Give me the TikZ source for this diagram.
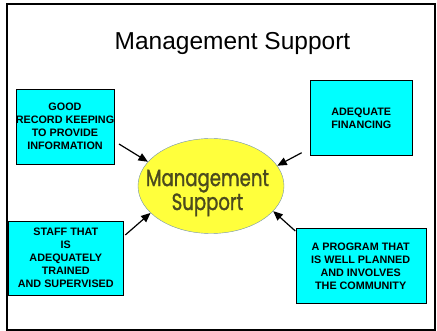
\documentclass[tikz,border=0pt]{standalone}
\usepackage{fontspec}
\setmainfont{Liberation Sans}
\newfontfamily\ovalfont[FakeStretch=0.77,FakeBold=1.2]{Poppins}
\usetikzlibrary{arrows.meta,positioning,shapes.geometric}
\definecolor{Box_Cyan}{HTML}{00FFFF}
\definecolor{Oval_Yellow}{HTML}{FFFF3C}
\definecolor{Oval_Edge}{HTML}{7090B0}
\definecolor{Oval_Text}{HTML}{4B4A1E}

\begin{document}
\begin{tikzpicture}[x=1pt, y=-1pt, >={Triangle[length=9.5pt,width=8pt]},
    factor/.style={draw=black, fill=Box_Cyan, inner sep=0pt, align=center,
      font=\fontsize{10.8}{13}\selectfont\bfseries},
    push/.style={->, line width=1.2pt}]
    \useasboundingbox (0,0) rectangle (437,331);

    % Frame
    \draw[line width=1.4pt] (7,4) rectangle (435,330);

    % Title
    \node[font=\fontsize{24.5}{29}\selectfont, anchor=base] (title) at (232.5,50) {Management Support};

    % Central oval
    \node[ellipse, draw=Oval_Edge, fill=Oval_Yellow, minimum width=146pt, minimum height=95pt,
      inner sep=0pt] (ms) at (211,186) {};
    \node[text=Oval_Text, font=\ovalfont\fontsize{23.5}{20}\selectfont, align=center, inner sep=0pt]
      (mslabel) at (207.5,193) {Management\\Support};

    % Supporting factors
    \node[factor, minimum width=98pt, minimum height=75pt] (record) at (65,126.3)
      {GOOD\\RECORD KEEPING\\TO PROVIDE\\INFORMATION};
    \node[factor, minimum width=102.7pt, minimum height=75pt] (finance) at (361.3,117.8)
      {ADEQUATE\\FINANCING};
    \node[factor, minimum width=115.7pt, minimum height=74.3pt] (staff) at (65.8,258.2)
      {STAFF THAT\\IS\\ADEQUATELY\\TRAINED\\AND SUPERVISED};
    \node[factor, minimum width=130pt, minimum height=74.7pt] (program) at (360.7,266)
      {A PROGRAM THAT\\IS WELL PLANNED\\AND INVOLVES\\THE COMMUNITY};

    % Arrows into the oval
    \coordinate (t1) at (119,144);
    \coordinate (t2) at (301.7,152.7);
    \coordinate (t3) at (125.3,235);
    \coordinate (t4) at (295.3,231);
    \draw[push] (t1) -- (ms.159);
    \draw[push] (t2) -- (ms.17);
    \draw[push] (t3) -- (ms.204);
    \draw[push] (t4) -- (ms.-22);

\end{tikzpicture}
\end{document}
